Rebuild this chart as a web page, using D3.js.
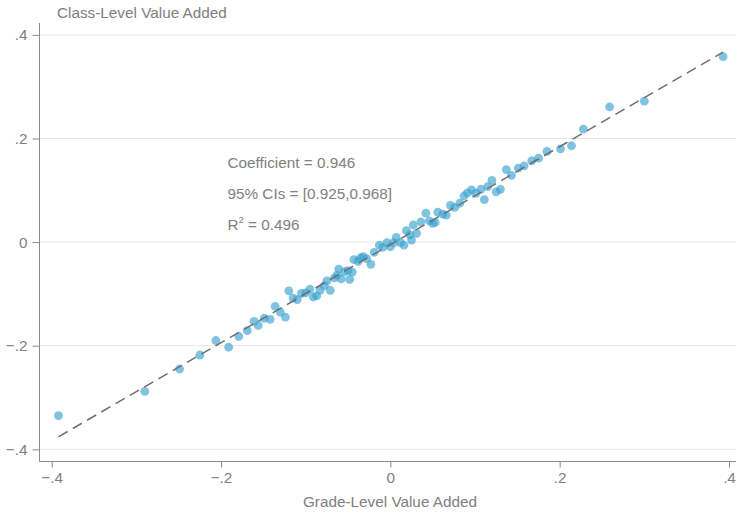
<!DOCTYPE html>
<html>
<head>
<meta charset="utf-8">
<script src="https://cdn.jsdelivr.net/npm/d3@7"></script>
<style>
  html, body { margin: 0; padding: 0; background: #fff; }
  svg { display: block; font-family: "Liberation Sans", Arial, sans-serif; }
</style>
</head>
<body>
<svg id="chart" width="736" height="514"></svg>
<script>
// Binned grade-level vs class-level value added
const gradeVA = [
  -0.392, -0.290, -0.249, -0.225, -0.206, -0.191, -0.179, -0.169, -0.161, -0.156,
  -0.149, -0.142, -0.136, -0.130, -0.124, -0.120, -0.115, -0.110, -0.105, -0.100,
  -0.095, -0.091, -0.087, -0.083, -0.078, -0.075, -0.071, -0.066, -0.063, -0.061,
  -0.058, -0.054, -0.050, -0.048, -0.045, -0.043, -0.038, -0.035, -0.032, -0.028,
  -0.023, -0.019, -0.013, -0.009, -0.004, 0.000, 0.004, 0.007, 0.012, 0.016,
  0.019, 0.023, 0.025, 0.027, 0.031, 0.036, 0.042, 0.046, 0.050, 0.053,
  0.056, 0.062, 0.066, 0.071, 0.076, 0.082, 0.087, 0.091, 0.096, 0.101,
  0.107, 0.111, 0.115, 0.120, 0.125, 0.130, 0.137, 0.143, 0.151, 0.158,
  0.167, 0.175, 0.185, 0.201, 0.214, 0.228, 0.259, 0.300, 0.393
];
const classVA = [
  -0.335, -0.288, -0.245, -0.218, -0.190, -0.203, -0.182, -0.171, -0.153, -0.161,
  -0.147, -0.149, -0.124, -0.135, -0.145, -0.094, -0.108, -0.111, -0.099, -0.098,
  -0.091, -0.106, -0.104, -0.093, -0.084, -0.075, -0.093, -0.069, -0.064, -0.052,
  -0.071, -0.057, -0.055, -0.072, -0.058, -0.034, -0.037, -0.030, -0.028, -0.032,
  -0.043, -0.020, -0.006, -0.010, -0.001, -0.009, -0.001, 0.009, -0.001, -0.006,
  0.022, 0.014, 0.004, 0.033, 0.017, 0.039, 0.056, 0.041, 0.036, 0.038,
  0.058, 0.054, 0.052, 0.071, 0.067, 0.075, 0.089, 0.095, 0.101, 0.094,
  0.102, 0.082, 0.107, 0.119, 0.097, 0.102, 0.140, 0.129, 0.143, 0.147,
  0.157, 0.162, 0.175, 0.180, 0.186, 0.218, 0.261, 0.272, 0.358
];

// Linear fit reported in the annotation
const slope = 0.946;
const intercept = -0.005;
const statLines = ["Coefficient = 0.946", "95% CIs = [0.925,0.968]"];
const r2Value = "0.496";

const xTicks = [-0.4, -0.2, 0, 0.2, 0.4];
const yTicks = [-0.4, -0.2, 0, 0.2, 0.4];
const fmt = d => d === 0 ? "0" : d3.format(".1f")(d).replace("0.", ".");

const svg = d3.select("#chart");
const textColor = "#808080";
const fontSize = 15.3;

const axisX = 39.5, axisY = 461.5;
const x = d3.scaleLinear().domain([-0.4, 0.4]).range([51.7, 729]);
const y = d3.scaleLinear().domain([-0.4, 0.4]).range([449.3, 34.9]);

// horizontal gridlines
svg.append("g").selectAll("line").data(yTicks).join("line")
  .attr("x1", axisX).attr("x2", 736)
  .attr("y1", d => y(d)).attr("y2", d => y(d))
  .attr("stroke", "#e6e6e6").attr("stroke-width", 1);

// y axis
const yAxis = svg.append("g").attr("transform", `translate(${axisX},0)`)
  .call(d3.axisLeft(y).tickValues(yTicks).tickFormat(fmt).tickSizeOuter(0).tickSize(7).tickPadding(5));
yAxis.select(".domain").attr("d", `M0,23V${axisY}`);

// x axis
const xAxis = svg.append("g").attr("transform", `translate(0,${axisY})`)
  .call(d3.axisBottom(x).tickValues(xTicks).tickFormat(fmt).tickSizeOuter(0).tickSize(6).tickPadding(5));
xAxis.select(".domain").attr("d", `M${axisX},0H736`);

svg.selectAll(".tick text").attr("fill", textColor).attr("font-size", fontSize)
  .attr("font-family", "Liberation Sans, Arial, sans-serif");
svg.selectAll(".domain, .tick line").attr("stroke", "#8a8a8a");

// points
const pts = gradeVA.map((v, i) => ({ x: v, y: classVA[i] }));
svg.append("g").selectAll("circle").data(pts).join("circle")
  .attr("cx", d => x(d.x)).attr("cy", d => y(d.y)).attr("r", 4.4)
  .attr("fill", "rgb(52,160,208)").attr("fill-opacity", 0.63);

// fitted line
const xExt = d3.extent(gradeVA);
svg.append("line")
  .attr("x1", x(xExt[0])).attr("y1", y(intercept + slope * xExt[0]))
  .attr("x2", x(xExt[1])).attr("y2", y(intercept + slope * xExt[1]))
  .attr("stroke", "#6e6e6e").attr("stroke-width", 1.5)
  .attr("stroke-dasharray", "10.5,6");

// titles
svg.append("text").attr("x", 57).attr("y", 17.5)
  .attr("fill", textColor).attr("font-size", fontSize)
  .text("Class-Level Value Added");
svg.append("text").attr("x", 390).attr("y", 506.5).attr("text-anchor", "middle")
  .attr("fill", textColor).attr("font-size", fontSize)
  .text("Grade-Level Value Added");

// fit statistics
const stats = svg.append("g").attr("fill", textColor).attr("font-size", fontSize);
statLines.forEach((s, i) => {
  stats.append("text").attr("x", 227.5).attr("y", 167.5 + i * 31).text(s);
});
const r2 = stats.append("text").attr("x", 227.5).attr("y", 229.5);
r2.append("tspan").text("R");
r2.append("tspan").attr("font-size", 9.5).attr("dy", -6.5).text("2");
r2.append("tspan").attr("dy", 6.5).text(" = " + r2Value);
</script>
</body>
</html>
